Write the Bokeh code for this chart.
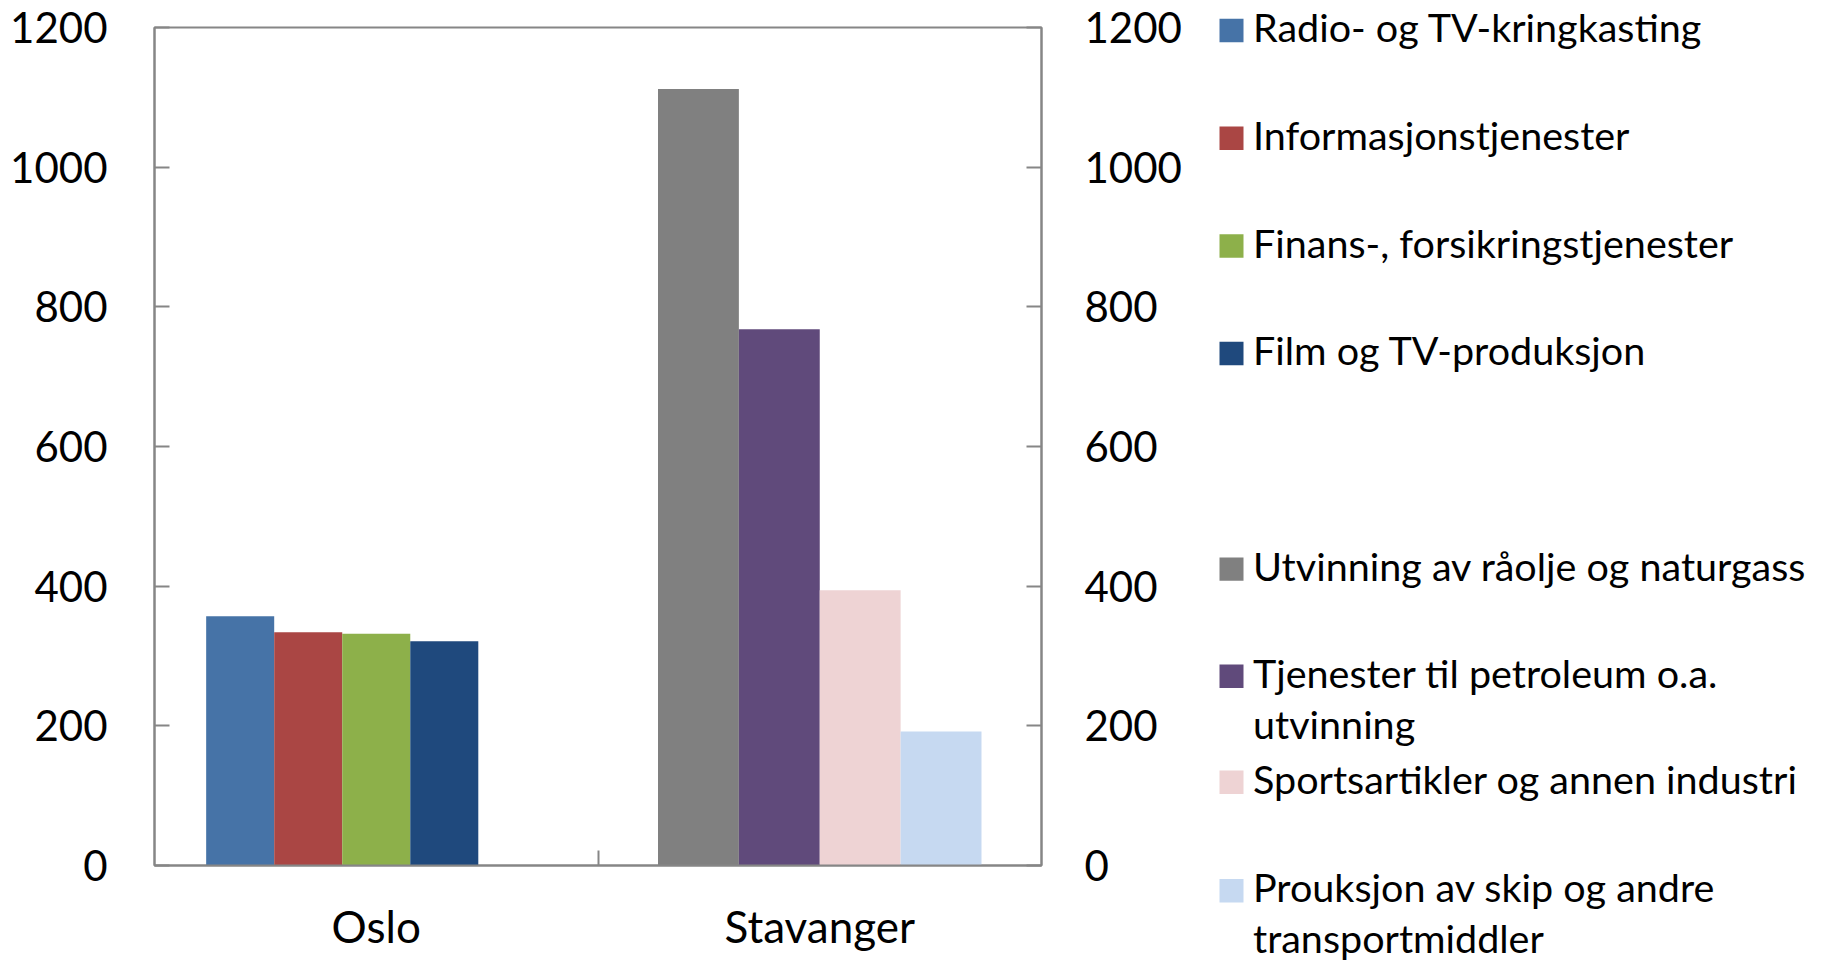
from bokeh.plotting import figure
from bokeh.models import Range1d, LinearAxis, FixedTicker, ColumnDataSource
from bokeh.layouts import row
from bokeh.embed import file_html
from bokeh.resources import INLINE
from bokeh.core.properties import value

# ---------------- data ----------------
categories = ["Oslo", "Stavanger"]
oslo_series = ["Radio- og TV-kringkasting", "Informasjonstjenester",
               "Finans-, forsikringstjenester", "Film og TV-produksjon"]
oslo_values = [357, 334, 332, 321]
stavanger_series = ["Utvinning av råolje og naturgass",
                    "Tjenester til petroleum o.a.\nutvinning",
                    "Sportsartikler og annen industri",
                    "Prouksjon av skip og andre\ntransportmiddler"]
stavanger_values = [1112, 768, 394, 192]
y_ticks = [0, 200, 400, 600, 800, 1000, 1200]

# ---------------- styles / layout ----------------
oslo_colors = ["#4673A7", "#AA4644", "#8DB04A", "#1F497D"]
stav_colors = ["#808080", "#604A7B", "#EED3D4", "#C6D9F1"]
AXIS_COLOR = "#868686"
FONT = "Lato"

W_TOTAL, H = 1827, 963
W_MAIN = 1200
W_LEG = W_TOTAL - W_MAIN
FRAME_L, FRAME_R, FRAME_T, FRAME_B = 154, 1041, 27, 865

OSLO_SLOTS, OSLO_GROUP_W = 5, 0.767
STAV_SLOTS, STAV_GROUP_W = 4, 0.7294


def slot_centers(cat_idx, n_slots, group_w, n_used):
    center = cat_idx + 0.5
    w = group_w / n_slots
    start = center - group_w / 2
    return [start + (i + 0.5) * w for i in range(n_used)], w


ox, ow = slot_centers(0, OSLO_SLOTS, OSLO_GROUP_W, len(oslo_values))
sx, sw = slot_centers(1, STAV_SLOTS, STAV_GROUP_W, len(stavanger_values))

p = figure(width=W_MAIN, height=H, x_range=Range1d(0, 2), y_range=Range1d(0, 1200),
           output_backend="svg", toolbar_location=None,
           min_border_left=FRAME_L, min_border_right=W_MAIN - FRAME_R,
           min_border_top=FRAME_T, min_border_bottom=H - FRAME_B)
p.xgrid.visible = False
p.ygrid.visible = False
p.outline_line_color = AXIS_COLOR
p.outline_line_width = 2

src_o = ColumnDataSource(dict(x=ox, top=oslo_values, color=oslo_colors))
src_s = ColumnDataSource(dict(x=sx, top=stavanger_values, color=stav_colors))
p.vbar(x="x", top="top", bottom=0, width=ow, fill_color="color", line_color=None, source=src_o)
p.vbar(x="x", top="top", bottom=0, width=sw, fill_color="color", line_color=None, source=src_s)


def style_y(ax, standoff):
    ax.ticker = FixedTicker(ticks=y_ticks)
    ax.major_tick_in = 15
    ax.major_tick_out = 0
    ax.minor_tick_line_color = None
    ax.major_tick_line_color = AXIS_COLOR
    ax.major_tick_line_width = 2
    ax.axis_line_color = AXIS_COLOR
    ax.axis_line_width = 2
    ax.major_label_standoff = standoff
    ax.major_label_text_font = FONT
    ax.major_label_text_font_size = "42px"
    ax.major_label_text_color = "black"


style_y(p.yaxis[0], 47)
ry = LinearAxis()
style_y(ry, 43)
p.add_layout(ry, "right")

xa = p.xaxis[0]
xa.ticker = FixedTicker(ticks=[0.5, 1.5], minor_ticks=[1])
xa.major_label_overrides = {0.5: categories[0], 1.5: categories[1]}
xa.major_tick_line_color = None
xa.major_tick_in = 0
xa.major_tick_out = 0
xa.minor_tick_in = 15
xa.minor_tick_out = 0
xa.minor_tick_line_color = AXIS_COLOR
xa.minor_tick_line_width = 2
xa.axis_line_color = AXIS_COLOR
xa.axis_line_width = 2
xa.major_label_standoff = 34
xa.major_label_text_font = FONT
xa.major_label_text_font_size = "44px"
xa.major_label_text_color = "black"

# ---------------- legend panel (own figure, pixel coordinates) ----------------
lg = figure(width=W_LEG, height=H, x_range=Range1d(0, W_LEG), y_range=Range1d(H, 0),
            output_backend="svg", toolbar_location=None, min_border=0,
            x_axis_location=None, y_axis_location=None)
lg.xgrid.visible = False
lg.ygrid.visible = False
lg.outline_line_color = None
lg.frame_align = False
p.frame_align = False

legend_labels = oslo_series + stavanger_series
legend_colors = oslo_colors + stav_colors
row_centers = [30, 137.8, 245.5, 353, 568.6, 675.8, 781.8, 890.2]
SQ_CX, SQ_W, SQ_H = 1231 - W_MAIN, 24, 23.4
TXT_X, LINE_STEP, BASE_OFF = 1252.5 - W_MAIN, 51, -4

lg.rect(x=[SQ_CX] * len(row_centers), y=row_centers, width=SQ_W, height=SQ_H,
        fill_color=legend_colors, line_color=None)

tx, ty, tt = [], [], []
for lab, c in zip(legend_labels, row_centers):
    for j, line in enumerate(lab.split("\n")):
        tx.append(TXT_X)
        ty.append(c + BASE_OFF + j * LINE_STEP)
        tt.append(line)
lg.text(x=tx, y=ty, text=tt, text_baseline="alphabetic", text_align="left",
        text_font=value(FONT), text_font_size="39.5px", text_color="black")

layout = row(p, lg)
open("out.html", "w").write(file_html(layout, INLINE))
